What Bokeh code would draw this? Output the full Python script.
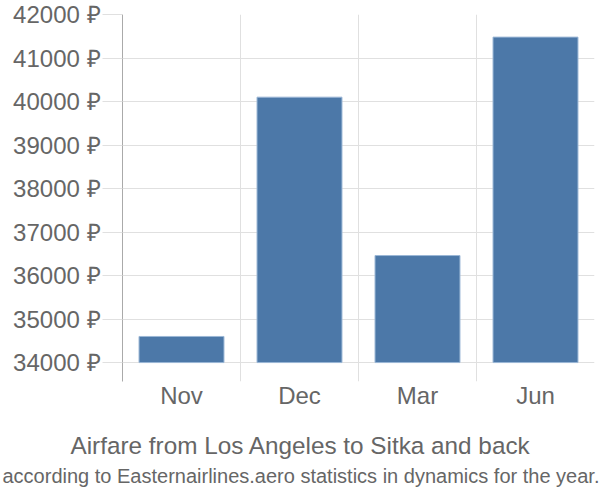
from bokeh.plotting import figure
from bokeh.models import Range1d, FixedTicker, Title
from bokeh.embed import file_html
from bokeh.resources import INLINE

months = ["Nov", "Dec", "Mar", "Jun"]
prices = [34600, 40100, 36460, 41480]
base_price = 34000
y_ticks = [34000, 35000, 36000, 37000, 38000, 39000, 40000, 41000, 42000]
title_text = "Airfare from Los Angeles to Sitka and back"
subtitle_text = "according to Easternairlines.aero statistics in dynamics for the year."

FONT = "Liberation Sans"
TXT = "#666666"
GRID = "#e0e0e0"

x_pos = [i + 0.5 for i in range(len(months))]

p = figure(width=600, height=500, output_backend="svg", toolbar_location=None,
           x_range=Range1d(0, len(months)), y_range=Range1d(33565, 42000),
           min_border_left=122, min_border_right=6, min_border_top=14, min_border_bottom=119)
p.outline_line_color = None
p.background_fill_color = "white"

p.vbar(x=x_pos, top=prices, bottom=base_price, width=0.72,
       fill_color="#4c78a8", line_color="#9bb7d6", line_width=1)

# y axis
ya = p.yaxis[0]
ya.ticker = FixedTicker(ticks=y_ticks)
ya.major_label_overrides = {t: f"{t} ₽" for t in y_ticks}
ya.axis_line_color = "#aaaaaa"
ya.axis_line_width = 1
ya.major_tick_line_color = GRID
ya.major_tick_out = 20
ya.major_tick_in = 0
ya.minor_tick_line_color = None
ya.major_label_standoff = 2
ya.major_label_text_font = FONT
ya.major_label_text_font_size = "24px"
ya.major_label_text_color = TXT

# x axis
xa = p.xaxis[0]
xa.ticker = FixedTicker(ticks=x_pos)
xa.major_label_overrides = {x: m for x, m in zip(x_pos, months)}
xa.axis_line_color = None
xa.major_tick_line_color = None
xa.minor_tick_line_color = None
xa.major_tick_out = 0
xa.major_tick_in = 0
xa.major_label_standoff = 0
xa.major_label_text_font = FONT
xa.major_label_text_font_size = "24px"
xa.major_label_text_color = TXT

p.ygrid[0].ticker = FixedTicker(ticks=y_ticks)
p.ygrid[0].grid_line_color = GRID
p.xgrid[0].ticker = FixedTicker(ticks=list(range(1, len(months) + 1)))
p.xgrid[0].grid_line_color = GRID

t1 = Title(text=title_text, align="left", offset=-52, standoff=37,
           text_font=FONT, text_font_size="24.3px", text_color=TXT,
           text_font_style="normal")
t2 = Title(text=subtitle_text, align="left", offset=-120, standoff=-25,
           vertical_align="top",
           text_font=FONT, text_font_size="20px", text_color=TXT,
           text_font_style="normal")
p.add_layout(t1, "below")
p.add_layout(t2, "below")

open("out.html", "w").write(file_html(p, INLINE))
